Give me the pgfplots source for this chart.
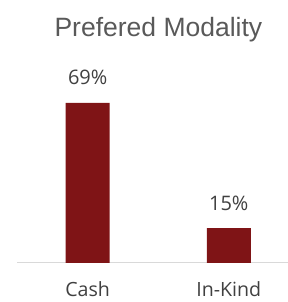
\documentclass[border=0pt]{standalone}
\usepackage{pgfplots}
\pgfplotsset{compat=1.18}
\usepackage{fontspec}
\setmainfont{Open Sans}
\newfontfamily\titlefont{Liberation Sans}
\definecolor{barred}{HTML}{7F1416}
\definecolor{titlegray}{HTML}{595959}
\definecolor{labgray}{HTML}{404040}
\definecolor{axgray}{HTML}{D9D9D9}
\begin{document}
\begin{tikzpicture}[x=1pt,y=1pt]
\useasboundingbox (0,0) rectangle (288,302);
\node[anchor=base, text=titlegray, font=\titlefont\fontsize{26.5}{30}\selectfont, inner sep=0pt] at (158.4,265.3) {Prefered Modality};
\begin{axis}[
  at={(17pt,39pt)}, anchor=south west,
  scale only axis, width=271pt, height=200pt,
  xmin=-0.501, xmax=1.42, ymin=0, ymax=86.2,
  axis y line=none, axis x line*=bottom,
  x axis line style={draw=axgray, line width=1pt, -},
  xtick={0,1}, xticklabels={Cash, In-Kind},
  major tick length=0pt,
  /pgf/number format/assume math mode=true,
  xticklabel style={text=labgray, font=\fontsize{19.6}{22}\selectfont, anchor=base, yshift=-34pt, inner sep=0pt},
  clip=false,
  ybar, bar width=44pt, bar shift=0pt,
  nodes near coords={\pgfmathprintnumber{\pgfplotspointmeta}\%},
  every node near coord/.append style={text=labgray, font=\fontsize{20}{22}\selectfont, anchor=base, yshift=18pt, inner sep=0pt},
]
\addplot[fill=barred, draw=none] coordinates {(0,69) (1,15)};
\end{axis}
\end{tikzpicture}
\end{document}
